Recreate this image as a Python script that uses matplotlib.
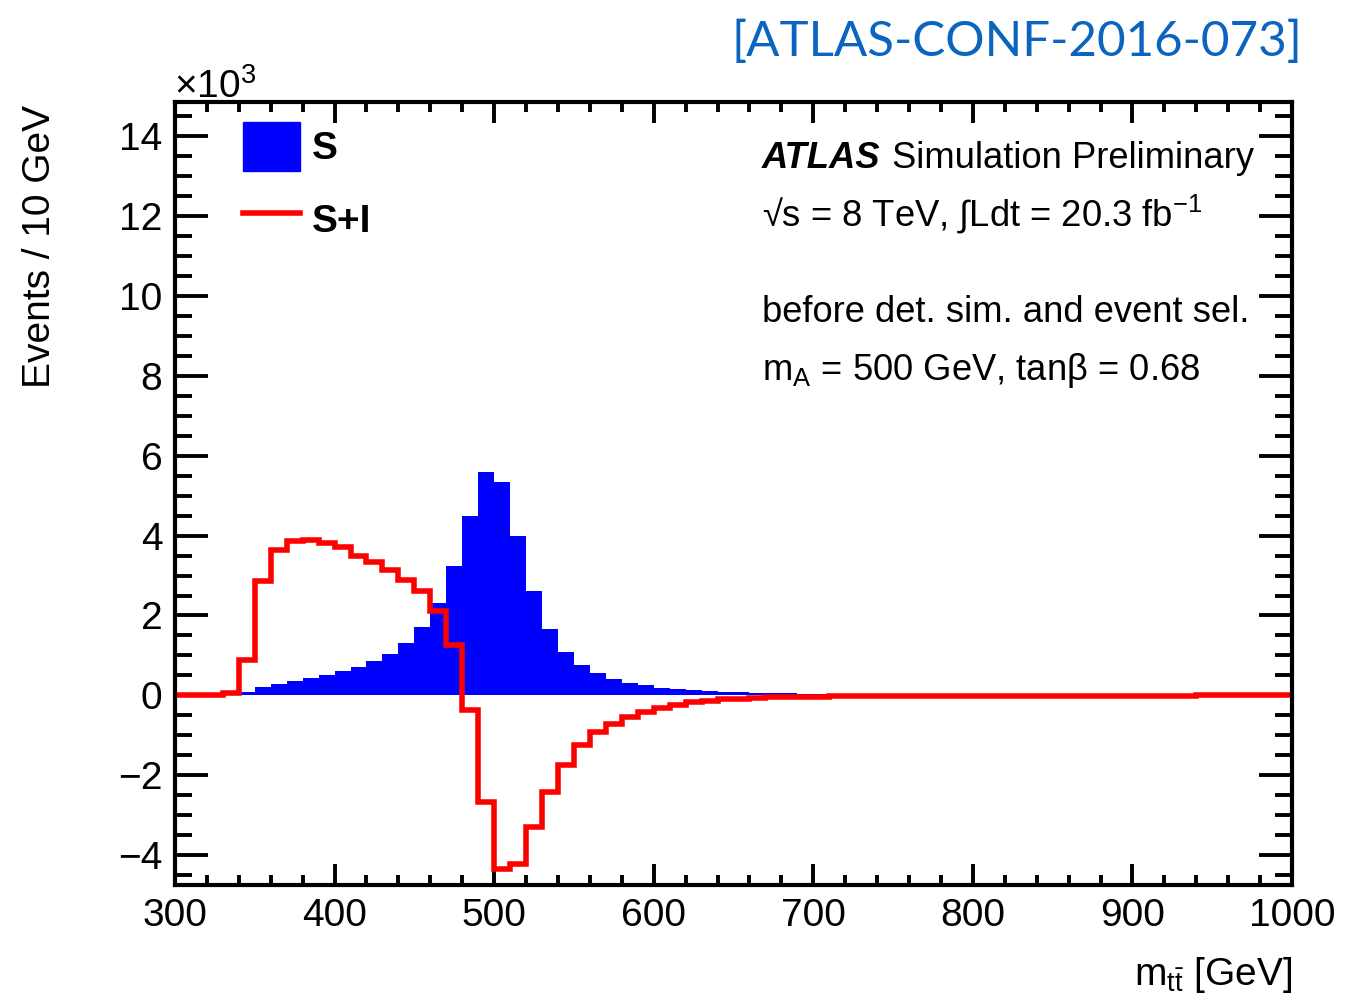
import numpy as np
import matplotlib
matplotlib.use("Agg")
import matplotlib.pyplot as plt
from matplotlib.patches import Patch
from matplotlib.lines import Line2D
from matplotlib.ticker import MultipleLocator

plt.rcParams['font.family'] = ['Liberation Sans', 'DejaVu Sans']
plt.rcParams['mathtext.fontset'] = 'custom'
plt.rcParams['mathtext.rm'] = 'Liberation Sans'
plt.rcParams['mathtext.it'] = 'Liberation Sans:italic'
plt.rcParams['mathtext.bf'] = 'Liberation Sans:bold'

# m_tt bin edges, 10 GeV bins from 300 to 1000
edges = np.arange(300, 1001, 10)

# signal only (x10^3 events)
sig = [0.0, 0.0, 0.01, 0.05, 0.09, 0.21, 0.29, 0.36, 0.43, 0.51,
       0.61, 0.71, 0.86, 1.04, 1.32, 1.70, 2.31, 3.24, 4.49, 5.59,
       5.35, 3.98, 2.61, 1.66, 1.09, 0.76, 0.55, 0.40, 0.31, 0.25,
       0.19, 0.15, 0.13, 0.11, 0.09, 0.075, 0.067, 0.058, 0.05, 0.044,
       0.038, 0.033, 0.029, 0.026, 0.023, 0.021, 0.019, 0.017, 0.015, 0.014,
       0.013, 0.012, 0.011, 0.010, 0.010, 0.009, 0.008, 0.008, 0.007, 0.007,
       0.006, 0.006, 0.006, 0.005, 0.005, 0.005, 0.004, 0.004, 0.004, 0.004]

# signal + interference
sig_int = [0.0, 0.0, 0.0, 0.05, 0.89, 2.87, 3.63, 3.87, 3.88, 3.82,
           3.71, 3.50, 3.34, 3.15, 2.90, 2.62, 2.12, 1.25, -0.36, -2.67,
           -4.35, -4.23, -3.30, -2.43, -1.75, -1.25, -0.92, -0.71, -0.55, -0.42,
           -0.31, -0.23, -0.17, -0.13, -0.10, -0.08, -0.065, -0.05, -0.04, -0.035,
           -0.03, -0.027, -0.024, -0.021, -0.019, -0.017, -0.015, -0.014, -0.013, -0.012,
           -0.011, -0.010, -0.009, -0.009, -0.008, -0.008, -0.007, -0.007, -0.006, -0.006,
           -0.006, -0.005, -0.005, -0.005, -0.004, -0.004, -0.004, -0.004, -0.003, -0.003]

W, H = 1367, 1005
fig = plt.figure(figsize=(W / 100, H / 100), dpi=100)
ax = fig.add_axes([175 / W, 1 - 885 / H, (1292 - 175) / W, (885 - 102) / H])

ax.stairs(sig, edges, fill=True, color='#0000ff', baseline=0, zorder=2)
ax.stairs(sig_int, edges, baseline=None, color='#ff0000', lw=4, zorder=3)

ax.set_xlim(300, 1000)
ax.set_ylim(-4.75, 14.86)
ax.xaxis.set_major_locator(MultipleLocator(100))
ax.xaxis.set_minor_locator(MultipleLocator(20))
ax.yaxis.set_major_locator(MultipleLocator(2))
ax.yaxis.set_minor_locator(MultipleLocator(0.5))

for s in ax.spines.values():
    s.set_linewidth(3)
    s.set_zorder(5)
ax.tick_params(which='both', direction='in', top=True, right=True, width=2.8,
               labelsize=28)
ax.tick_params(axis='x', which='major', length=15, pad=9)
ax.tick_params(axis='x', which='minor', length=7)
ax.tick_params(axis='y', which='major', length=24, pad=9)
ax.tick_params(axis='y', which='minor', length=12)

handles = [Patch(facecolor='#0000ff', edgecolor='#0000ff'),
           Line2D([], [], color='#ff0000', lw=4)]
leg = ax.legend(handles, ['S', 'S+I'], loc='upper left',
                bbox_to_anchor=(68 / 1117, 1 - 20 / 783), frameon=False,
                borderpad=0, borderaxespad=0, handlelength=1.47,
                handleheight=1.55, handletextpad=0.3, labelspacing=0.62,
                prop={'size': 28, 'weight': 'bold'})

def fx(px):
    return px / W

def fy(py):
    return 1 - py / H

fs = 26.2
fig.text(fx(762), fy(168), 'ATLAS', fontsize=fs, fontweight='bold',
         fontstyle='italic')
fig.text(fx(892), fy(168), 'Simulation Preliminary', fontsize=fs)
fig.text(fx(762), fy(227), '√s = 8 TeV, ∫Ldt = 20.3 fb$^{\\mathrm{-1}}$',
         fontsize=fs)
fig.text(fx(762), fy(322), 'before det. sim. and event sel.', fontsize=fs)
fig.text(fx(762), fy(380), 'm$_{\\mathrm{A}}$ = 500 GeV, tanβ = 0.68',
         fontsize=fs)

fig.text(fx(174), fy(98), r'$\times$10$^{\mathrm{3}}$', fontsize=28)
fig.text(fx(1292), fy(985), r'm$_{\mathrm{t\bar{t}}}$ [GeV]', fontsize=28,
         ha='right')
fig.text(fx(40), fy(105), 'Events / 10 GeV', fontsize=28, rotation=90,
         ha='center', va='top')

fig.text(fx(1302), fy(56), '[ATLAS-CONF-2016-073]', fontsize=35.5,
         family=['Lato', 'DejaVu Sans'], color='#0a64c0', ha='right')

fig.savefig('out.png', dpi=100)
